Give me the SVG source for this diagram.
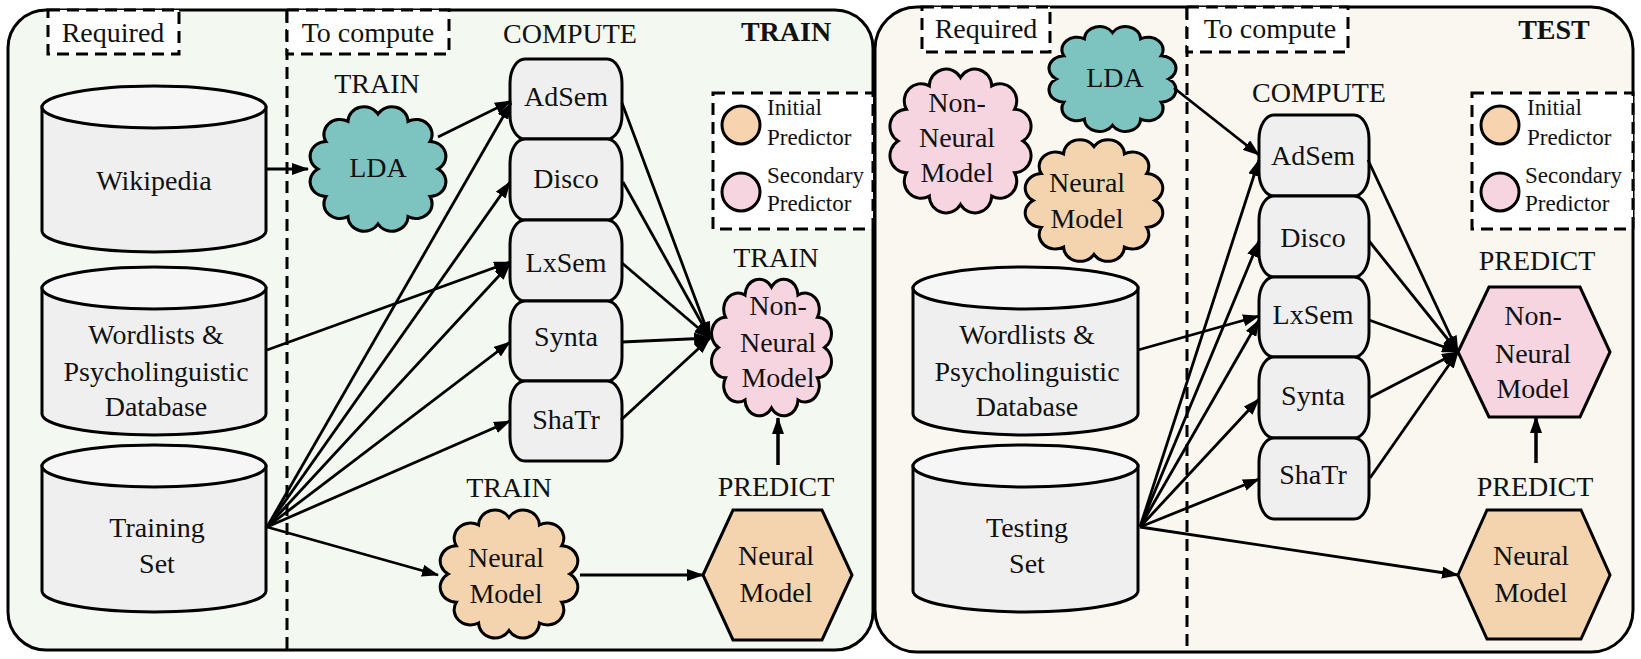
<svg xmlns="http://www.w3.org/2000/svg" width="1641" height="659" viewBox="0 0 1641 659">
<defs>
<style>
text{font-family:"Liberation Serif","Times New Roman",serif;font-size:28px;fill:#111;text-anchor:middle}
.b{font-weight:bold}
.lg{font-size:23px;text-anchor:start}
.ln{fill:none;stroke:#000;stroke-width:2.8;marker-end:url(#ah)}
.thick{stroke-width:3.5}
.dash{fill:#fff;stroke:#000;stroke-width:3;stroke-dasharray:12 7}
.dv{fill:none;stroke:#000;stroke-width:3;stroke-dasharray:12 7}
.panel{stroke:#000;stroke-width:3}
.cyl{fill:#efefef;stroke:#000;stroke-width:3}
.cyltop{fill:#f6f6f6;stroke:#000;stroke-width:3}
.box{fill:#efefef;stroke:#000;stroke-width:3}
.teal{fill:#7dc4c1}
.pink{fill:#f6d5e0}
.tan{fill:#f3d4ae}
.sh{stroke:#000;stroke-width:3}
</style>
<marker id="ah" markerUnits="userSpaceOnUse" markerWidth="17" markerHeight="12" viewBox="0 0 17 12" refX="16" refY="6" orient="auto"><path d="M0,0 L17,6 L0,12 Z" fill="#000"/></marker>
<path id="cloud" d="M0,-39 A10.5,10.5 0 0 1 19.5,-33.8 A10.5,10.5 0 0 1 33.8,-19.5 A10.5,10.5 0 0 1 39,0 A10.5,10.5 0 0 1 33.8,19.5 A10.5,10.5 0 0 1 19.5,33.8 A10.5,10.5 0 0 1 0,39 A10.5,10.5 0 0 1 -19.5,33.8 A10.5,10.5 0 0 1 -33.8,19.5 A10.5,10.5 0 0 1 -39,0 A10.5,10.5 0 0 1 -33.8,-19.5 A10.5,10.5 0 0 1 -19.5,-33.8 A10.5,10.5 0 0 1 0,-39 Z" stroke="#000" stroke-width="3" vector-effect="non-scaling-stroke"/>
</defs>

<!-- panels -->
<g id="panel-train">
<rect x="8" y="10" width="865" height="640" rx="38" fill="#f3f8f0" class="panel"/>
<line x1="287" y1="10" x2="287" y2="650" class="dv"/>
<rect x="48" y="10" width="131" height="44" class="dash"/>
<text x="113" y="42">Required</text>
<rect x="287" y="10" width="162" height="44" class="dash"/>
<text x="368" y="42">To compute</text>
<text x="570" y="43">COMPUTE</text>
<text x="786" y="41" class="b">TRAIN</text>
<text x="377" y="93">TRAIN</text>
<text x="776" y="267">TRAIN</text>
<text x="776" y="496">PREDICT</text>
<text x="509" y="497">TRAIN</text>
</g>
<g id="panel-test">
<rect x="875" y="7" width="758" height="645" rx="42" fill="#faf6f0" class="panel"/>
<line x1="1187" y1="7" x2="1187" y2="652" class="dv"/>
<rect x="922" y="7" width="128" height="45" class="dash"/>
<text x="986" y="38">Required</text>
<rect x="1187" y="7" width="161" height="45" class="dash"/>
<text x="1270" y="38">To compute</text>
<text x="1554" y="39" class="b">TEST</text>
<text x="1319" y="102">COMPUTE</text>
<text x="1537" y="270">PREDICT</text>
<text x="1535" y="496">PREDICT</text>
</g>

<!-- legends -->
<g id="legend-train">
<rect x="713" y="93" width="160" height="136" class="dash"/>
<circle cx="741" cy="125" r="19" fill="#f7d3b0" class="sh"/>
<circle cx="741" cy="192" r="19" fill="#f6d5e0" class="sh"/>
<text x="767" y="115" class="lg">Initial</text>
<text x="767" y="145" class="lg">Predictor</text>
<text x="767" y="183" class="lg">Secondary</text>
<text x="767" y="211" class="lg">Predictor</text>
</g>
<g id="legend-test">
<rect x="1472" y="93" width="161" height="136" class="dash"/>
<circle cx="1500" cy="125" r="19" fill="#f7d3b0" class="sh"/>
<circle cx="1500" cy="192" r="19" fill="#f6d5e0" class="sh"/>
<text x="1527" y="115" class="lg">Initial</text>
<text x="1527" y="145" class="lg">Predictor</text>
<text x="1525" y="183" class="lg">Secondary</text>
<text x="1525" y="211" class="lg">Predictor</text>
</g>

<!-- left nodes -->
<g id="wikipedia">
<path d="M42,107 V231 A112,21 0 0 0 266,231 V107 Z" class="cyl"/>
<ellipse cx="154" cy="107" rx="112" ry="21" class="cyltop"/>
<text x="154" y="190">Wikipedia</text>
</g>
<g id="wordlists-train">
<path d="M42,288 V414 A112,21 0 0 0 266,414 V288 Z" class="cyl"/>
<ellipse cx="154" cy="288" rx="112" ry="21" class="cyltop"/>
<text x="156" y="344">Wordlists &amp;</text>
<text x="156" y="381">Psycholinguistic</text>
<text x="156" y="416">Database</text>
</g>
<g id="training-set">
<path d="M42,466 V591 A112,21 0 0 0 266,591 V466 Z" class="cyl"/>
<ellipse cx="154" cy="466" rx="112" ry="21" class="cyltop"/>
<text x="157" y="537">Training</text>
<text x="157" y="573">Set</text>
</g>
<g id="lda-train">
<use href="#cloud" class="teal" transform="translate(378,169) scale(1.54,1.41)"/>
<text x="378" y="177">LDA</text>
</g>
<g id="adsem-train"><rect x="510" y="59" width="112" height="80" rx="15" ry="24" class="box"/><text x="566" y="106">AdSem</text></g>
<g id="disco-train"><rect x="510" y="139" width="112" height="81" rx="15" ry="24" class="box"/><text x="566" y="188">Disco</text></g>
<g id="lxsem-train"><rect x="510" y="220" width="112" height="81" rx="15" ry="24" class="box"/><text x="566" y="272">LxSem</text></g>
<g id="synta-train"><rect x="510" y="301" width="112" height="80" rx="15" ry="24" class="box"/><text x="566" y="346">Synta</text></g>
<g id="shatr-train"><rect x="510" y="381" width="112" height="80" rx="15" ry="24" class="box"/><text x="566" y="429">ShaTr</text></g>
<g id="nonneural-train">
<use href="#cloud" class="pink" transform="translate(771.5,347.5) scale(1.36,1.55)"/>
<text x="778" y="315">Non-</text>
<text x="778" y="352">Neural</text>
<text x="778" y="387">Model</text>
</g>
<g id="neural-train">
<use href="#cloud" class="tan" transform="translate(509,574) scale(1.56,1.45)"/>
<text x="506" y="567">Neural</text>
<text x="506" y="603">Model</text>
</g>
<g id="neural-predict-train">
<polygon points="703,575 733,510 822,510 852,575 822,640 733,640" class="tan sh"/>
<text x="776" y="565">Neural</text>
<text x="776" y="602">Model</text>
</g>

<!-- right nodes -->
<g id="nonneural-req">
<use href="#cloud" class="pink" transform="translate(960.5,141) scale(1.6,1.63)"/>
<text x="957" y="112">Non-</text>
<text x="957" y="147">Neural</text>
<text x="957" y="182">Model</text>
</g>
<g id="lda-test">
<use href="#cloud" class="teal" transform="translate(1112.5,79) scale(1.44,1.19)"/>
<text x="1115" y="87">LDA</text>
</g>
<g id="neural-req">
<use href="#cloud" class="tan" transform="translate(1094,200.5) scale(1.56,1.38)"/>
<text x="1087" y="192">Neural</text>
<text x="1087" y="228">Model</text>
</g>
<g id="wordlists-test">
<path d="M913,288 V414 A112.5,21 0 0 0 1138,414 V288 Z" class="cyl"/>
<ellipse cx="1025.5" cy="288" rx="112.5" ry="21" class="cyltop"/>
<text x="1027" y="344">Wordlists &amp;</text>
<text x="1027" y="381">Psycholinguistic</text>
<text x="1027" y="416">Database</text>
</g>
<g id="testing-set">
<path d="M913,466 V591 A112.5,21 0 0 0 1138,591 V466 Z" class="cyl"/>
<ellipse cx="1025.5" cy="466" rx="112.5" ry="21" class="cyltop"/>
<text x="1027" y="537">Testing</text>
<text x="1027" y="573">Set</text>
</g>
<g id="adsem-test"><rect x="1259" y="115" width="110" height="81" rx="15" ry="24" class="box"/><text x="1313" y="165">AdSem</text></g>
<g id="disco-test"><rect x="1259" y="196" width="110" height="81" rx="15" ry="24" class="box"/><text x="1313" y="247">Disco</text></g>
<g id="lxsem-test"><rect x="1259" y="277" width="110" height="80" rx="15" ry="24" class="box"/><text x="1313" y="324">LxSem</text></g>
<g id="synta-test"><rect x="1259" y="357" width="110" height="81" rx="15" ry="24" class="box"/><text x="1313" y="405">Synta</text></g>
<g id="shatr-test"><rect x="1259" y="438" width="110" height="81" rx="15" ry="24" class="box"/><text x="1313" y="484">ShaTr</text></g>
<g id="nonneural-predict-test">
<polygon points="1458,352 1489,287 1580,287 1610,352 1580,417 1489,417" class="pink sh"/>
<text x="1533" y="325">Non-</text>
<text x="1533" y="363">Neural</text>
<text x="1533" y="398">Model</text>
</g>
<g id="neural-predict-test">
<polygon points="1458,575 1487,510 1581,510 1610,575 1581,639 1487,639" class="tan sh"/>
<text x="1531" y="565">Neural</text>
<text x="1531" y="602">Model</text>
</g>

<!-- connectors -->
<g id="connectors">
<line x1="266" y1="169" x2="308" y2="169" class="ln"/>
<line x1="438" y1="137" x2="511" y2="101" class="ln"/>
<line x1="267" y1="527" x2="511" y2="103" class="ln"/>
<line x1="267" y1="527" x2="510" y2="182" class="ln"/>
<line x1="267" y1="350" x2="510" y2="262" class="ln"/>
<line x1="267" y1="527" x2="510" y2="264" class="ln"/>
<line x1="267" y1="527" x2="510" y2="342" class="ln"/>
<line x1="267" y1="527" x2="510" y2="421" class="ln"/>
<line x1="267" y1="527" x2="438" y2="575" class="ln"/>
<line x1="580" y1="575" x2="703" y2="575" class="ln"/>
<line x1="778" y1="465" x2="778" y2="418" class="ln thick"/>
<line x1="622" y1="103" x2="710" y2="338" class="ln"/>
<line x1="623" y1="182" x2="710" y2="338" class="ln"/>
<line x1="622" y1="263" x2="710" y2="338" class="ln"/>
<line x1="622" y1="342" x2="710" y2="338" class="ln"/>
<line x1="621" y1="420" x2="710" y2="338" class="ln"/>

<line x1="1174" y1="88" x2="1259" y2="155" class="ln"/>
<line x1="1140" y1="527" x2="1259" y2="160" class="ln"/>
<line x1="1140" y1="527" x2="1259" y2="241" class="ln"/>
<line x1="1138" y1="350" x2="1259" y2="316" class="ln"/>
<line x1="1140" y1="527" x2="1259" y2="320" class="ln"/>
<line x1="1140" y1="527" x2="1259" y2="399" class="ln"/>
<line x1="1140" y1="527" x2="1259" y2="479" class="ln"/>
<line x1="1140" y1="527" x2="1458" y2="575" class="ln"/>
<line x1="1536" y1="463" x2="1536" y2="417" class="ln thick"/>
<line x1="1368" y1="160" x2="1458" y2="352" class="ln"/>
<line x1="1369" y1="241" x2="1458" y2="352" class="ln"/>
<line x1="1369" y1="320" x2="1458" y2="352" class="ln"/>
<line x1="1369" y1="398" x2="1458" y2="352" class="ln"/>
<line x1="1370" y1="478" x2="1458" y2="352" class="ln"/>
</g>
</svg>
